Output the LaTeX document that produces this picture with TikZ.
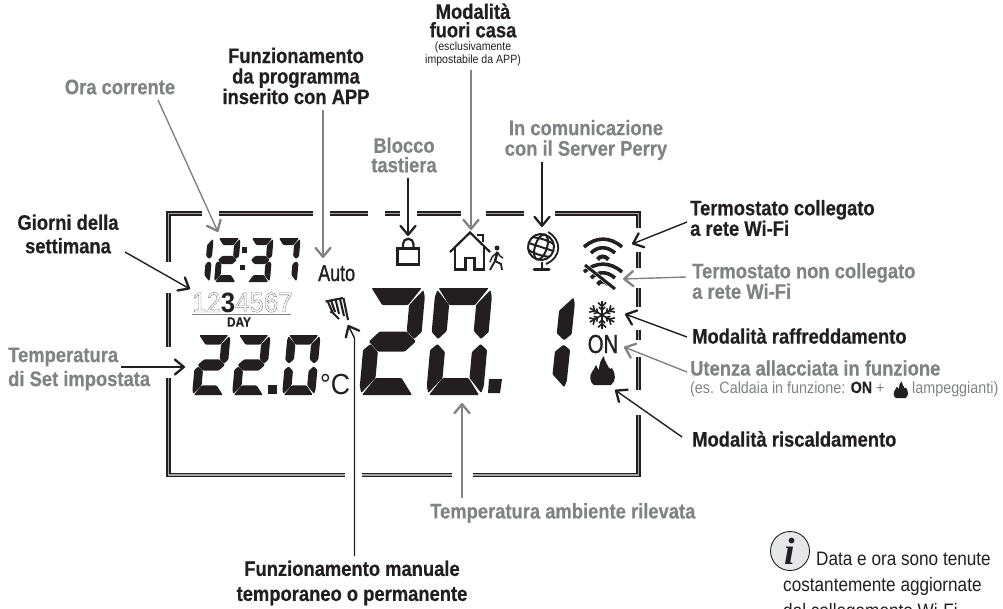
\documentclass[tikz,border=0pt]{standalone}
\usepackage{fontspec}
\usetikzlibrary{arrows.meta}
\setmainfont{Liberation Sans}[FakeStretch=0.88,BoldFeatures={FakeStretch=0.875,FakeBold=0.5}]
\newfontfamily\dayfont{Liberation Sans}[FakeStretch=0.92]
\newfontfamily\medfont{Liberation Sans}[FakeStretch=0.78,FakeBold=1.2]
\newfontfamily\infofont{Liberation Serif}[BoldItalicFont={Liberation Serif Bold Italic}]
\definecolor{ink}{HTML}{231F20}
\definecolor{gry}{HTML}{808285}
\definecolor{infog}{HTML}{E6E7E8}
\tikzset{
  lblb/.style={inner sep=0pt,align=center,text=ink,font=\bfseries\fontsize{21}{20.5}\selectfont},
  lblg/.style={lblb,text=gry},
  lblsm/.style={inner sep=0pt,align=center,text=ink,font=\fontsize{12}{13.5}\selectfont},
  arrb/.style={draw=ink,line width=1.4pt,-{Straight Barb[length=9pt,width=15pt,line width=2.3pt,round]}},
  arrg/.style={arrb,draw=gry},
  frm/.style={draw=ink,line width=1.5pt,double=black!35,double distance=1.4pt},
  seg/.style={fill=ink,rounded corners=1pt},
  icon/.style={draw=ink,line width=2.2pt},
}
\newcommand\sA{\fill[seg] (3,107)--(53,107)--(41,90)--(15,90)--cycle;}
\newcommand\sB{\fill[seg] (55,105)--(57,98)--(57,63)--(50,56)--(42,64)--(42,90)--cycle;}
\newcommand\sC{\fill[seg] (57,45)--(50,51)--(42,43)--(42,17)--(55,2)--(57,9)--cycle;}
\newcommand\sD{\fill[seg] (3,0)--(53,0)--(41,17)--(15,17)--cycle;}
\newcommand\sE{\fill[seg] (0,45)--(7,51)--(15,43)--(15,17)--(2,2)--(0,9)--cycle;}
\newcommand\sF{\fill[seg] (2,105)--(0,98)--(0,63)--(7,56)--(15,64)--(15,90)--cycle;}
\newcommand\sG{\fill[seg] (5,53.5)--(15,63.5)--(42,63.5)--(52,53.5)--(42,43.5)--(15,43.5)--cycle;}
\newcommand\lcd[5]{\begin{scope}[shift={(#1,-#2)},xscale=#3,yscale=#4,xslant=.09]#5\end{scope}}
\newcommand\flamepath{(4,0) .. controls (0,2) and (-1,9) .. (2,13) .. controls (3,15) and (5,17) .. (6,20) .. controls (7,18) and (8,16) .. (9,15) .. controls (9,21) and (11,26) .. (14,29) .. controls (14,25) and (17,21) .. (19,17) .. controls (20,16) and (21,16) .. (22,17) .. controls (26,11) and (26,4) .. (21,0) -- cycle}
\newcommand\olon{\special{pdf:code 1 Tr .35 w .3 .3 .3 RG [.8 .45] 0 d}}
\newcommand\oloff{\special{pdf:code 0 Tr [] 0 d}}
\newcommand\wifishape{%
\draw (584,-247) .. controls (596,-236.5) and (610,-236.5) .. (622,-247);
\draw (591,-253) .. controls (598,-246) and (607,-246) .. (615,-253);
\draw[line width=4pt] (597.5,-259.5) .. controls (600,-255.5) and (605,-255.5) .. (608.5,-259.5);}
\begin{document}
\begin{tikzpicture}[x=1pt,y=1pt]
\useasboundingbox (0,-608) rectangle (1003,0);
\clip (0,-608) rectangle (1003,0);
% frame
\draw[frm] (168.5,-262)--(168.5,-213.5)--(202,-213.5);
\draw[frm] (219,-213.5)--(313,-213.5);
\draw[frm] (330,-213.5)--(368,-213.5);
\draw[frm] (385,-213.5)--(400,-213.5);
\draw[frm] (417,-213.5)--(461,-213.5);
\draw[frm] (486,-213.5)--(524,-213.5);
\draw[frm] (555,-213.5)--(638.5,-213.5)--(638.5,-228);
\draw[frm] (638.5,-252)--(638.5,-268);
\draw[frm] (638.5,-288)--(638.5,-307);
\draw[frm] (638.5,-330)--(638.5,-340);
\draw[frm] (638.5,-357)--(638.5,-390);
\draw[frm] (638.5,-415)--(638.5,-475)--(473,-475);
\draw[frm] (452,-475)--(362,-475);
\draw[frm] (345,-475)--(168.5,-475)--(168.5,-378);
\draw[frm] (168.5,-293)--(168.5,-347);
% time
\lcd{187}{282}{.4}{.41}{\sB\sC}
\lcd{214}{282}{.4}{.41}{\sA\sB\sG\sE\sD}
\lcd{247}{282}{.4}{.41}{\sA\sB\sG\sC\sD}
\lcd{274}{282}{.4}{.41}{\sA\sB\sC}
\fill[ink] (242,-247) rectangle (247,-253);
\fill[ink] (239.5,-265) rectangle (244.5,-270);
% set temperature
\lcd{192}{395}{.58}{.56}{\sA\sB\sG\sE\sD}
\lcd{232}{395}{.58}{.56}{\sA\sB\sG\sE\sD}
\fill[ink] (268,-385) rectangle (277,-394);
\lcd{282}{395}{.58}{.56}{\sA\sB\sC\sD\sE\sF}
\node[inner sep=0pt,anchor=base west,text=ink,font=\dayfont\fontsize{29}{29}\selectfont] (unit) at (320,-394) {°C};
% room temperature
\lcd{359}{395}{1}{1}{\sA\sB\sG\sE\sD}
\lcd{426}{395}{1}{1}{\sA\sB\sC\sD\sE\sF}
\fill[ink] (489,-379) -- (502,-379) -- (500,-393) -- (488,-393) -- cycle;
\lcd{509}{389}{1}{.87}{\sB\sC}
% day row
\node[inner sep=0pt,anchor=base west,text=ink,font=\dayfont\fontsize{28}{28}\selectfont] (days) at (192,-312) {\olon 12\oloff{\bfseries 3}\olon 4567\oloff};
\draw[gry,line width=1pt] (192,-314) -- (291,-314);
\node[inner sep=0pt,text=ink,font=\bfseries\fontsize{13.5}{14}\selectfont] (day) at (239,-322) {DAY};
\node[inner sep=0pt,anchor=base west,text=ink,font=\medfont\fontsize{23}{23}\selectfont] (auto) at (318,-281) {Auto};
% hand
\begin{scope}[draw=ink,line width=2.1pt]
\draw (325.5,-301.5)--(343,-298);
\draw (331,-300)--(335,-312);
\draw (335.5,-299)--(339,-314);
\draw (340,-299)--(344,-316);
\draw (343.5,-298)--(348,-320);
\draw (328,-302)--(332,-311)--(331,-313);
\draw (331,-311)--(339,-319);
\end{scope}
% lock
\draw[icon] (397.5,-248.5) rectangle (419,-264.5);
\draw[icon] (403,-248.5) -- (403,-244) arc (180:0:5.25) -- (413.5,-248.5);
% house
\draw[icon,line join=miter] (450,-252)--(470,-232.5)--(490,-252);
\draw[icon,line join=miter] (455,-247)--(455,-269.5)--(465.5,-269.5)--(465.5,-258)--(474.5,-258)--(474.5,-269.5)--(484,-269.5)--(484,-246);
\draw[icon,line width=1.8pt] (477,-235)--(483,-235)--(483,-242);
\fill[ink] (497,-248) circle (2.5);
\draw[ink,line width=2.5pt] (497.5,-252)--(495,-261);
\draw[ink,line width=1.8pt] (495,-261)--(490,-270);
\draw[ink,line width=1.8pt] (495,-261)--(501,-264)--(502,-270);
\draw[ink,line width=1.4pt] (497.5,-252)--(492,-257)--(490,-262);
\draw[ink,line width=1.4pt] (497.5,-252)--(500,-256)--(503,-258);
% globe
\begin{scope}[shift={(541,-247)},rotate=-18]
\draw[icon,line width=2pt] (0,0) circle (13);
\draw[ink,line width=2pt] (0,0) ellipse (6 and 13);
\draw[ink,line width=2pt] (-13,0)--(13,0);
\draw[ink,line width=2pt] (-11.5,6.5) .. controls (-5,8.5) and (5,8.5) .. (11.5,6.5);
\draw[ink,line width=2pt] (-11.5,-6.5) .. controls (-5,-8.5) and (5,-8.5) .. (11.5,-6.5);
\end{scope}
\draw[ink,line width=1.8pt] (548,-232) .. controls (562,-240) and (562,-257) .. (546,-264);
\draw[ink,line width=2.2pt] (542,-262)--(542,-268);
\draw[ink,line width=3pt,line cap=round] (534,-269)--(549,-269);
% wifi
\begin{scope}[ink,line width=3.6pt]
\wifishape
\end{scope}
\begin{scope}[shift={(0,-25)},ink,line width=3.6pt]
\wifishape
\end{scope}
\draw[white,line width=4pt] (585,-265)--(615,-289);
\draw[ink,line width=3pt] (585,-265)--(615,-289);
% snowflake
\begin{scope}[shift={(602,-315)},ink,line width=1.6pt]
\foreach \a in {0,60,...,300}{
\begin{scope}[rotate=\a]
\draw (0,0)--(0,14);
\draw (-4,12.5)--(0,8.5)--(4,12.5);
\draw (-3,8)--(0,5)--(3,8);
\end{scope}}
\end{scope}
\node[inner sep=0pt,anchor=base,text=ink,font=\medfont\fontsize{26}{26}\selectfont] (on) at (603,-353) {ON};
% flame
\begin{scope}[shift={(590,-385)}]
\fill[ink] \flamepath;
\end{scope}
% labels
\node[lblg] (ora) at (120,-87) {Ora corrente};
\node[lblb] (prog) at (296,-76) {Funzionamento\\da programma\\inserito con APP};
\node[lblb,font=\bfseries\fontsize{21}{18.5}\selectfont] (fuori) at (473,-20.5) {Modalità\\fuori casa};
\node[lblsm] (escl) at (473,-54) {(esclusivamente\\impostabile da APP)};
\node[lblg,font=\bfseries\fontsize{21}{19.5}\selectfont] (blocco) at (404,-155) {Blocco\\tastiera};
\node[lblg] (server) at (586,-140) {In comunicazione\\con il Server Perry};
\node[lblb,anchor=west,align=left] (coll) at (690,-218) {Termostato collegato\\a rete Wi-Fi};
\node[lblg,anchor=west,align=left] (ncoll) at (692,-281) {Termostato non collegato\\a rete Wi-Fi};
\node[lblb,anchor=west] (raff) at (692,-336) {Modalità raffreddamento};
\node[lblg,anchor=west] (ut) at (690,-368) {Utenza allacciata in funzione};
\node[inner sep=0pt,anchor=base west,text=gry,font=\fontsize{16.3}{17}\selectfont] (es) at (690,-393) {(es. Caldaia in funzione: \textbf{\textcolor{ink}{ON}} +};
\begin{scope}[shift={(893.5,-398)},scale=.58]
\fill[ink] \flamepath;
\end{scope}
\node[inner sep=0pt,anchor=base west,text=gry,font=\fontsize{16.3}{17}\selectfont] (lamp) at (912,-393) {lampeggianti)};
\node[lblb,anchor=west] (risc) at (692,-439) {Modalità riscaldamento};
\node[lblg,anchor=west] (amb) at (430,-513) {Temperatura ambiente rilevata};
\node[lblb,font=\bfseries\fontsize{21}{25}\selectfont] (man) at (352,-583) {Funzionamento manuale\\temporaneo o permanente};
\node[lblb,font=\bfseries\fontsize{21}{23.5}\selectfont] (giorni) at (68,-234) {Giorni della\\settimana};
\node[lblg,anchor=west,align=left,font=\bfseries\fontsize{21}{24}\selectfont] (set) at (8,-369) {Temperatura\\di Set impostata};
% info
\node[circle,draw=ink,fill=infog,line width=.9pt,minimum size=39pt,inner sep=0pt,font=\infofont\bfseries\itshape\fontsize{38}{38}\selectfont,text=ink] (info) at (790,-551) {\raisebox{-2pt}{\kern-1pt i}};
\node[inner sep=0pt,anchor=base west,text=ink,font=\fontsize{19.5}{20}\selectfont] (n1) at (816,-565) {Data e ora sono tenute};
\node[inner sep=0pt,anchor=base west,text=ink,font=\fontsize{19.5}{20}\selectfont] (n2) at (783,-591) {costantemente aggiornate};
\node[inner sep=0pt,anchor=base west,text=ink,font=\fontsize{19.5}{20}\selectfont] (n3) at (783,-617) {dal collegamento Wi-Fi};
% connector ends
\coordinate (aOra) at (158,-100); \coordinate (bOra) at (218,-232);
\coordinate (aProg) at (323,-110); \coordinate (bProg) at (323,-258);
\coordinate (aBl) at (408,-178); \coordinate (bBl) at (408,-236);
\coordinate (aFu) at (471,-70); \coordinate (bFu) at (471,-230);
\coordinate (aSe) at (542,-162); \coordinate (bSe) at (542,-227);
\coordinate (aCo) at (687,-222); \coordinate (bCo) at (632,-244);
\coordinate (aNc) at (686,-277); \coordinate (bNc) at (623,-279);
\coordinate (aRa) at (687,-337); \coordinate (bRa) at (625,-314);
\coordinate (aUt) at (687,-372); \coordinate (bUt) at (624,-347);
\coordinate (aRi) at (682,-437); \coordinate (bRi) at (615,-390);
\coordinate (aAm) at (462,-498); \coordinate (bAm) at (462,-403);
\coordinate (aGi) at (125,-252); \coordinate (bGi) at (190,-289);
\coordinate (aSt) at (121,-367); \coordinate (bSt) at (185,-367);
\coordinate (aMa) at (354.5,-556); \coordinate (eMa) at (354.5,-338); \coordinate (bMa) at (348,-325);
\draw[arrg] (aOra) -- (bOra);
\draw[arrg] (aProg) -- (bProg);
\draw[arrb] (aBl) -- (bBl);
\draw[arrg] (aFu) -- (bFu);
\draw[arrb] (aSe) -- (bSe);
\draw[arrb] (aCo) -- (bCo);
\draw[arrg] (aNc) -- (bNc);
\draw[arrb] (aRa) -- (bRa);
\draw[arrg] (aUt) -- (bUt);
\draw[arrb] (aRi) -- (bRi);
\draw[arrg] (aAm) -- (bAm);
\draw[arrb] (aGi) -- (bGi);
\draw[arrb] (aSt) -- (bSt);
\draw[arrb] (aMa) -- (eMa) -- (bMa);
\end{tikzpicture}
\end{document}
